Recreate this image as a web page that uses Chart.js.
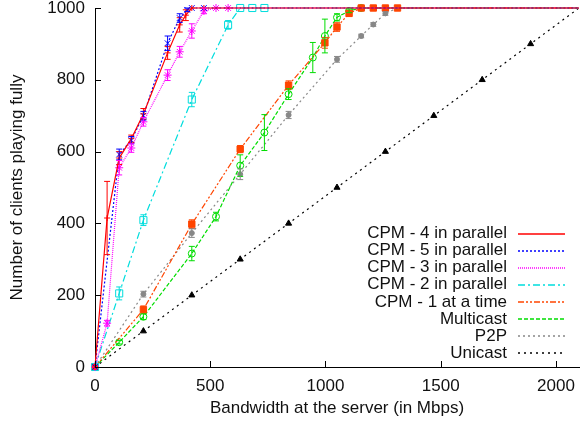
<!DOCTYPE html>
<html>
<head>
<meta charset="utf-8">
<script src="https://cdn.jsdelivr.net/npm/chart.js@4.4.1/dist/chart.umd.min.js"></script>
<style>
    body { margin: 0; background: #fff; }
</style>
</head>
<body>
<canvas id="myChart" width="585" height="426"></canvas>
<script>
// Data (bandwidth in Mbps -> clients playing fully)
const xTicks = [0, 500, 1000, 1500, 2000];
const yTicks = [0, 200, 400, 600, 800, 1000];

const cpm4Bw = [0, 52.5, 105, 157.5, 210, 315, 367.5, 394, 420, 472.5, 2100];
const cpm4Clients = [0, 415, 582, 636, 705, 875, 953, 980, 1000, 1000, 1000];
const cpm4Err = [0, 102, 18, 10, 15, 18, 20, 15, 0, 0, 0];

const cpm5Bw = [0, 105, 157.5, 210, 315, 367.5, 400, 420, 472.5, 2100];
const cpm5Clients = [0, 592, 632, 700, 902, 972, 995, 1000, 1000, 1000];
const cpm5Err = [0, 15, 10, 12, 20, 12, 5, 0, 0, 0];

const cpm3Bw = [0, 52.5, 105, 157.5, 210, 315, 367.5, 420, 472.5, 525, 577.5, 2100];
const cpm3Clients = [0, 122, 555, 610, 683, 813, 878, 936, 992, 1000, 1000, 1000];
const cpm3Err = [0, 8, 20, 12, 12, 15, 15, 20, 8, 0, 0, 0];

const cpm2Bw = [0, 105, 210, 420, 577.5, 630, 682.5, 735, 2100];
const cpm2Clients = [0, 205, 409, 745, 953, 1000, 1000, 1000, 1000];
const cpm2Err = [0, 18, 15, 20, 12, 0, 0, 0, 0];

const cpm1Bw = [0, 210, 420, 630, 840, 997.5, 1050, 1102.5, 1155, 1207.5, 1260, 1312.5, 2100];
const cpm1Clients = [0, 160, 398, 607, 785, 903, 947, 985, 1000, 1000, 1000, 1000, 1000];
const cpm1Err = [0, 10, 12, 10, 12, 15, 12, 8, 0, 0, 0, 0, 0];

const multicastBw = [0, 105, 210, 420, 525, 630, 735, 840, 945, 997.5, 1050, 1102.5, 1155, 2100];
const multicastClients = [0, 69, 140, 316, 419, 561, 653, 760, 862, 922, 974, 992, 1000, 1000];
const multicastErr = [0, 5, 8, 20, 12, 30, 50, 15, 42, 47, 10, 5, 0, 0];

const p2pBw = [0, 210, 420, 630, 840, 1050, 1155, 1207.5, 1260, 1312.5, 2100];
const p2pClients = [0, 203, 373, 537, 702, 857, 922, 954, 985, 1000, 1000];
const p2pErr = [0, 8, 12, 15, 10, 8, 5, 5, 5, 0, 0];

const unicastBw = [0, 210, 420, 630, 840, 1050, 1260, 1470, 1680, 1890, 2100];
const unicastClients = [0, 100, 200, 300, 400, 500, 600, 700, 800, 900, 1000];
const unicastErr = [0, 0, 0, 0, 0, 0, 0, 0, 0, 0, 0];

const FONT = '"Liberation Sans", Arial, sans-serif';

function toPoints(bw, clients, err) {
    return bw.map((b, i) => ({ x: b, y: clients[i], e: err[i] }));
}

// hide markers on the trailing point at the right edge
function markerSize(size) {
    return ctx => (ctx.raw && ctx.raw.x >= 2100 ? 0 : size);
}

function series(label, pts, color, dash, style, size, fill) {
    return {
        label: label,
        data: pts,
        lineColor: color,
        lineDash: dash,
        borderColor: color,
        backgroundColor: fill,
        borderWidth: 1.2,
        borderDash: dash,
        pointStyle: style,
        pointRadius: markerSize(size),
        pointBorderColor: color,
        pointBackgroundColor: fill,
        pointBorderWidth: 1,
        tension: 0,
        clip: false
    };
}

// vertical error bars with caps, drawn through the scales
const errorBars = {
    id: 'errorBars',
    afterDatasetsDraw(chart) {
        const ctx = chart.ctx;
        const xs = chart.scales.x, ys = chart.scales.y;
        chart.data.datasets.forEach(ds => {
            ctx.save();
            ctx.strokeStyle = ds.lineColor;
            ctx.lineWidth = 1;
            ds.data.forEach(p => {
                if (!p.e) return;
                const px = xs.getPixelForValue(p.x);
                const top = ys.getPixelForValue(p.y + p.e);
                const bot = ys.getPixelForValue(p.y - p.e);
                ctx.beginPath();
                ctx.moveTo(px, top); ctx.lineTo(px, bot);
                ctx.moveTo(px - 3, top); ctx.lineTo(px + 3, top);
                ctx.moveTo(px - 3, bot); ctx.lineTo(px + 3, bot);
                ctx.stroke();
            });
            ctx.restore();
        });
    }
};

// gnuplot-style inward ticks
const innerTicks = {
    id: 'innerTicks',
    afterDraw(chart) {
        const ctx = chart.ctx;
        const xs = chart.scales.x, ys = chart.scales.y;
        const area = chart.chartArea;
        ctx.save();
        ctx.strokeStyle = '#000';
        ctx.lineWidth = 1;
        ctx.beginPath();
        xTicks.forEach(v => {
            const px = Math.round(xs.getPixelForValue(v)) + 0.5;
            ctx.moveTo(px, area.bottom); ctx.lineTo(px, area.bottom - 6);
        });
        yTicks.forEach(v => {
            const py = Math.round(ys.getPixelForValue(v)) + 0.5;
            ctx.moveTo(area.left, py); ctx.lineTo(area.left + 6, py);
        });
        ctx.stroke();
        ctx.restore();
    }
};

// legend inside the plot: right-aligned text, line sample on the right
const keyBox = {
    id: 'keyBox',
    afterDraw(chart) {
        const ctx = chart.ctx;
        chart.data.datasets.forEach((ds, i) => {
            const y = 233.5 + i * 17.1;
            ctx.save();
            ctx.font = '17px ' + FONT;
            ctx.textAlign = 'right';
            ctx.textBaseline = 'middle';
            ctx.fillStyle = '#111';
            ctx.fillText(ds.label, 507, y);
            ctx.strokeStyle = ds.lineColor;
            ctx.lineWidth = 1.6;
            ctx.setLineDash(ds.lineDash);
            ctx.beginPath();
            ctx.moveTo(518, Math.round(y));
            ctx.lineTo(565, Math.round(y));
            ctx.stroke();
            ctx.restore();
        });
    }
};

const datasets = [
    series('CPM - 4 in parallel', toPoints(cpm4Bw, cpm4Clients, cpm4Err), '#ff0000', [], 'cross', 3, '#ff0000'),
    series('CPM - 5 in parallel', toPoints(cpm5Bw, cpm5Clients, cpm5Err), '#0000ff', [2, 2], 'crossRot', 4, '#0000ff'),
    series('CPM - 3 in parallel', toPoints(cpm3Bw, cpm3Clients, cpm3Err), '#ff00ff', [1, 1], 'star', 4, '#ff00ff'),
    series('CPM - 2 in parallel', toPoints(cpm2Bw, cpm2Clients, cpm2Err), '#00dddd', [7, 3, 2, 3], 'rect', 5, 'rgba(255,255,255,0)'),
    series('CPM - 1 at a time', toPoints(cpm1Bw, cpm1Clients, cpm1Err), '#ff4500', [6, 2, 2, 2, 2, 2], 'rect', 4.5, '#ff4500'),
    series('Multicast', toPoints(multicastBw, multicastClients, multicastErr), '#00dd00', [4, 2], 'circle', 3.5, 'rgba(255,255,255,0)'),
    series('P2P', toPoints(p2pBw, p2pClients, p2pErr), '#888888', [2, 3], 'circle', 2.5, '#888888'),
    series('Unicast', toPoints(unicastBw, unicastClients, unicastErr), '#000000', [2, 4], 'triangle', 3.5, '#000000')
];

const plainTick = { color: '#111', font: { family: FONT, size: 17 }, callback: v => String(v) };

const config = {
    type: 'scatter',
    data: { datasets: datasets },
    options: {
        responsive: false,
        animation: false,
        devicePixelRatio: 1,
        showLine: true,
        layout: { padding: { top: 8, right: 0, left: 0, bottom: 0 } },
        scales: {
            x: {
                type: 'linear',
                min: 0,
                max: 2100,
                afterBuildTicks: scale => { scale.ticks = xTicks.map(v => ({ value: v })); },
                afterFit: scale => { scale.height = 59; scale.paddingLeft = 0; scale.paddingRight = 0; },
                grid: { display: true, drawOnChartArea: false, drawTicks: false },
                border: { display: true, color: '#000', width: 1 },
                ticks: Object.assign({ padding: 9, maxRotation: 0 }, plainTick),
                title: {
                    display: true,
                    text: 'Bandwidth at the server (in Mbps)',
                    color: '#111',
                    font: { family: FONT, size: 17 },
                    padding: { top: 0, bottom: 7 }
                }
            },
            y: {
                type: 'linear',
                min: 0,
                max: 1000,
                afterBuildTicks: scale => { scale.ticks = yTicks.map(v => ({ value: v })); },
                afterFit: scale => { scale.width = 95; scale.paddingTop = 0; scale.paddingBottom = 0; },
                grid: { display: true, drawOnChartArea: false, drawTicks: false },
                border: { display: true, color: '#000', width: 1 },
                ticks: Object.assign({ padding: 10 }, plainTick),
                title: {
                    display: true,
                    text: 'Number of clients playing fully',
                    color: '#111',
                    font: { family: FONT, size: 17 },
                    padding: { top: 7, bottom: 0 }
                }
            }
        },
        plugins: {
            legend: { display: false },
            tooltip: { enabled: false }
        }
    },
    plugins: [errorBars, innerTicks, keyBox]
};

const ctx = document.getElementById('myChart').getContext('2d');
new Chart(ctx, config);
</script>
</body>
</html>
